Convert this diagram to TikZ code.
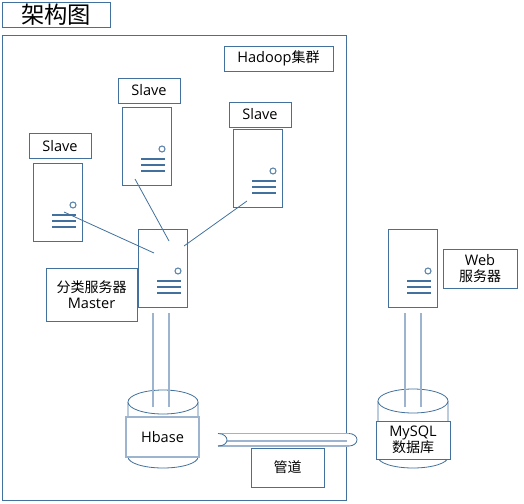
\documentclass[tikz,border=0pt]{standalone}
\usepackage{fontspec}
\setmainfont{Noto Sans CJK SC}[Scale=1]
\newfontfamily\latinf{Open Sans}[Scale=1.04]
\definecolor{dk}{HTML}{41719C}
\definecolor{lt}{HTML}{9DB4CE}
\tikzset{
  lbl/.style={draw=dk,line width=0.9pt,fill=white,inner sep=0pt,align=center,text=black,font=\fontsize{14}{16.5}\selectfont},
  srv/.style={draw=dk,line width=0.9pt,fill=white},
  lnk/.style={draw=dk,line width=0.8pt},
  dbl/.style={draw=lt,line width=1.4pt},
  bar/.style={draw=dk,line width=1.3pt},
}
\newcommand{\server}[3]{%
  \begin{scope}[shift={(#1,#2)}]
    \node[srv,minimum width=49,minimum height=78,inner sep=0pt,anchor=north west] (#3) at (0,0) {};
    \draw[draw=dk!70!lt,line width=1.1pt] (40,-42) circle (3);
    \draw[bar] (19,-52)--(43,-52) (19,-58)--(43,-58) (19,-64)--(43,-64);
  \end{scope}}
\newcommand{\cyl}[5]{% x1 x2 ytop ybottom name
  \draw[lnk,fill=white] (#1,{-(#3+12)}) -- (#1,{-(#4-11)}) arc[start angle=180,end angle=360,x radius={(#2-#1)/2},y radius=11] -- (#2,{-(#3+12)});
  \draw[lnk,fill=white] ({(#1+#2)/2},{-(#3+12)}) ellipse[x radius={(#2-#1)/2},y radius=12];
  \coordinate (#5) at ({(#1+#2)/2},{-(#3+12)});}
\begin{document}
\begin{tikzpicture}[x=1pt,y=1pt]
\useasboundingbox (0,0) rectangle (524,-503);
\fill[white] (0,0) rectangle (524,-503);
\node[lbl,minimum width=108,minimum height=25,font=\fontsize{23.3}{26}\selectfont] (title) at (56,-14.5) {架构图};
\node[draw=dk,line width=0.9pt,minimum width=344,minimum height=465,inner sep=0pt,anchor=north west] (outer) at (2,-35) {};
\node[lbl,minimum width=109,minimum height=25] (hadoop) at (278.5,-58.5) {{\latinf Hadoop}集群};
\node[lbl,minimum width=62,minimum height=25] (ls1) at (149,-90.5) {\latinf Slave};
\node[lbl,minimum width=62,minimum height=25] (ls2) at (260,-114.5) {\latinf Slave};
\node[lbl,minimum width=62,minimum height=25] (ls3) at (60,-146) {\latinf Slave};
\server{122}{-107}{s1}
\server{233}{-129}{s2}
\server{33}{-163}{s3}
\server{138}{-229}{m}
\server{388}{-229}{w}
\coordinate (a1) at (64,-212); \coordinate (b1) at (154,-253);
\coordinate (a2) at (135,-179); \coordinate (b2) at (169,-241);
\coordinate (a3) at (247,-201); \coordinate (b3) at (184,-246);
\draw[lnk] (a1)--(b1) (a2)--(b2) (a3)--(b3);
\node[lbl,minimum width=91,minimum height=53] (mlab) at (91.5,-294.5) {分类服务器\\{\latinf Master}};
\node[lbl,minimum width=74,minimum height=39] (wlab) at (480,-268.5) {{\latinf Web}\\服务器};
\cyl{128}{198}{390}{468}{hb}
\cyl{378}{448}{389}{468}{my}
\draw[dbl] (153,-313)--(153,-407) (169,-313)--(169,-407);
\draw[dbl] (405,-313)--(405,-407) (421,-313)--(421,-407);
\node[lbl,draw=lt,line width=1.1pt,minimum width=73,minimum height=40] (hlab) at (162.5,-437) {\latinf Hbase};
\node[lbl,minimum width=74,minimum height=38] (mylab) at (413,-440) {{\latinf MySQL}\\数据库};
\fill[white] (218,-433.5) -- (349,-433.5) arc[start angle=90,end angle=-90,x radius=8,y radius=6.25] -- (218,-446) .. controls (224,-446) and (227,-443) .. (227,-440) .. controls (227,-437) and (224,-433.5) .. (218,-433.5);
\draw[draw=lt,line width=1.5pt] (218,-433.5) -- (349,-433.5) (218,-446) -- (349,-446) (226.5,-441) -- (347,-441);
\draw[lnk] (218,-446) .. controls (224,-446) and (227,-443) .. (227,-440) .. controls (227,-437) and (224,-433.5) .. (218,-433.5);
\draw[lnk] (349,-433.5) arc[start angle=90,end angle=-90,x radius=8,y radius=6.25];
\node[lbl,minimum width=73,minimum height=39] (pipe) at (287.5,-467.5) {管道};
\end{tikzpicture}
\end{document}
